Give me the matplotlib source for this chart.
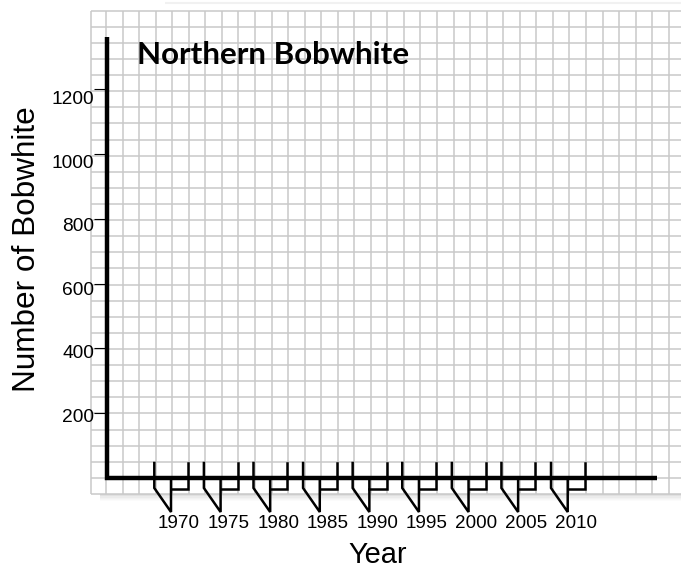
import matplotlib
matplotlib.use("Agg")
import matplotlib.pyplot as plt
import matplotlib.patches as mpatches

# ---------------- data (text content of the worksheet) ----------------
years = [1970, 1975, 1980, 1985, 1990, 1995, 2000, 2005, 2010]
year_labels = ["1970", "1975", "1980", "1985", "1990", "1995", "2000", "2005", "2010"]
count_ticks = [200, 400, 600, 800, 1000, 1200]
count_labels = ["200", "400", "600", "800", "1000", "1200"]
title_text = "Northern Bobwhite"
xlabel_text = "Year"
ylabel_text = "Number of Bobwhite"

# ---------------- calibration (pixel geometry of the sheet) ----------------
W, H, DPI = 681, 567, 100
X_REF_PX = 171.0        # pixel column of the first year tick
PX_PER_YEAR = 9.918
Y_ZERO_PX = 478.2       # pixel row of count 0
PX_PER_COUNT = 0.3243


def xd(px):
    return years[0] + (px - X_REF_PX) / PX_PER_YEAR


def yd(py):
    return (Y_ZERO_PX - py) / PX_PER_COUNT


def dxd(dpx):
    return dpx / PX_PER_YEAR


def dyd(dpx):  # pixel offset downward -> data offset
    return -dpx / PX_PER_COUNT


fig = plt.figure(figsize=(W / DPI, H / DPI), dpi=DPI)
fig.patch.set_facecolor("white")
ax = fig.add_axes([0, 0, 1, 1])
ax.set_xlim(xd(0), xd(W))
ax.set_ylim(yd(H), yd(0))
ax.axis("off")

# ---------------- graph paper ----------------
GRID_LEFT, GRID_RIGHT, GRID_TOP, GRID_BOTTOM = 91.0, 681.0, 10.7, 494.0
GRID_DX, GRID_DY, GRID_X0 = 16.55, 16.11, 106.0
grid_color = "#c9c9c9"

# drop shadow under the sheet
for i, a in enumerate([0.16, 0.12, 0.08, 0.05, 0.03, 0.015]):
    y0 = GRID_BOTTOM + i * 1.2
    ax.add_patch(mpatches.Rectangle((xd(100), yd(y0 + 1.2)), xd(W) - xd(100),
                                    yd(y0) - yd(y0 + 1.2), facecolor="black",
                                    alpha=a, lw=0, zorder=0))
# faint edge above the sheet
ax.hlines(yd(3), xd(165), xd(W), color="#f1f1f1", lw=1.5, zorder=0)

ax.add_patch(mpatches.Rectangle((xd(GRID_LEFT), yd(GRID_BOTTOM)),
                                xd(GRID_RIGHT) - xd(GRID_LEFT),
                                yd(GRID_TOP) - yd(GRID_BOTTOM),
                                facecolor="white", lw=0, zorder=0.5))
vx = [GRID_LEFT]
k = -1
while True:
    p = GRID_X0 + k * GRID_DX
    if p > GRID_RIGHT:
        break
    if p > GRID_LEFT + 3:
        vx.append(p)
    k += 1
ax.vlines([xd(p) for p in vx], yd(GRID_BOTTOM), yd(GRID_TOP),
          color=grid_color, lw=1.1, zorder=1)
hy = []
k = 0
while GRID_TOP + k * GRID_DY <= GRID_BOTTOM + 0.5:
    hy.append(GRID_TOP + k * GRID_DY)
    k += 1
ax.hlines([yd(p) for p in hy], xd(GRID_LEFT), xd(GRID_RIGHT),
          color=grid_color, lw=1.1, zorder=1)

# ---------------- axes (L shape) ----------------
y_axis_x = xd(106.5)
ax.plot([y_axis_x, y_axis_x, xd(657)], [yd(37), 0, 0], color="black",
        lw=3.2, solid_joinstyle="miter", solid_capstyle="butt", zorder=5)

# y ticks and labels
tick_font = "Liberation Sans"
ax.hlines(count_ticks, xd(94.3), y_axis_x, color="black", lw=0.8, zorder=5)
for v, lab in zip(count_ticks, count_labels):
    off = 8.7 + (v - count_ticks[0]) * 0.0065
    ax.text(xd(94.0), v + dyd(off), lab, ha="right", va="baseline",
            fontsize=13.8, family=tick_font, color="black", zorder=6)

# x ticks (bracket-shaped marks) and labels
for yr, lab in zip(years, year_labels):
    a = yr - dxd(16.7)
    c = yr + dxd(17.3)
    ax.plot([a, a, yr, yr], [yd(463), yd(488), yd(512), yd(479)],
            color="black", lw=1.8, solid_joinstyle="miter", zorder=5)
    ax.plot([yr, c, c], [yd(489), yd(489), yd(463)],
            color="black", lw=1.8, solid_joinstyle="miter", zorder=5)
    ax.text(yr + dxd(8.0), yd(528), lab, ha="center", va="baseline",
            fontsize=13.6, family=tick_font, color="black", zorder=6)

# ---------------- titles ----------------
t_title = ax.text(xd(137), yd(64.3), title_text, ha="left", va="baseline",
                  fontsize=20, fontweight="bold", family="Lato", color="black",
                  zorder=6)
t_x = ax.text(xd(377.5), yd(563.3), xlabel_text, ha="center", va="baseline",
              fontsize=20, family="Liberation Sans", color="black", zorder=6)
t_y = ax.text(xd(35.0), yd(249), ylabel_text, ha="center", va="baseline",
              rotation=90, rotation_mode="anchor", fontsize=22,
              family="Liberation Sans", color="black", zorder=6)

# fit text sizes to the measured extents of the sheet
fig.canvas.draw()
r = fig.canvas.get_renderer()
for t, target, use_w in [(t_title, 273.0, True), (t_x, 58.4, True), (t_y, 284.0, False)]:
    bb = t.get_window_extent(r)
    size = bb.width if use_w else bb.height
    t.set_fontsize(t.get_fontsize() * target / size)

fig.savefig("out.png", dpi=DPI, facecolor="white")
